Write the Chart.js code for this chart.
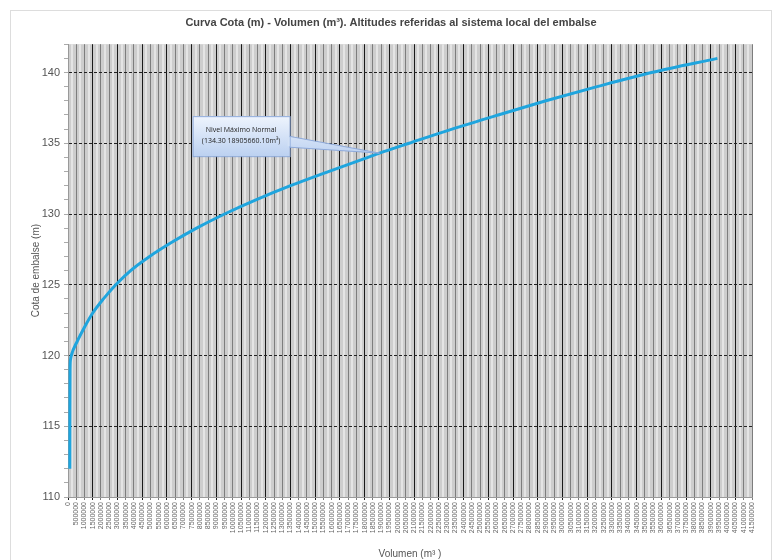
<!DOCTYPE html>
<html>
<head>
<meta charset="utf-8">
<script src="https://cdn.jsdelivr.net/npm/chart.js@4"></script>
<style>
  html, body { margin: 0; padding: 0; background: #fff; }
  #wrap { position: relative; width: 774px; height: 560px; }
  #frame { position: absolute; left: 10px; top: 10px; right: 2px; bottom: -2px; border: 1px solid #ddd; }
</style>
</head>
<body>
<div id="wrap">
  <div id="frame"></div>
  <canvas id="curva" width="774" height="560"></canvas>
</div>
<script>
// datos de la curva cota - volumen
const volumen = [110000, 115000, 125000, 150000, 200000, 560000, 1000000, 1500000, 2150000, 2900000,
  3800000, 4950000, 6300000, 7800000, 9500000, 11400000, 13500000, 15800000, 18200000,
  18905660.1, 20700000, 23300000, 26100000, 29000000, 32100000, 35400000, 39400000];
const cota = [112, 116, 119, 119.7, 120, 121, 122, 123, 124, 125,
  126, 127, 128, 129, 130, 131, 132, 133, 134,
  134.3, 135, 136, 137, 138, 139, 140, 141];

const xMin = 0, xMax = 41500000, xStep = 500000;
const yMin = 110, yMax = 142;

const nivelCota = 134.30;
const nivelVol = 18905660.10;
const nivelTexto = ['Nivel Máximo Normal', '(134.30 18905660.10m³)'];

const puntos = volumen.map((v, i) => ({ x: v, y: cota[i] }));

// fondo del area de trazado con rayas claras
const fondoPlugin = {
    id: 'fondo',
    beforeDraw(chart) {
        const { ctx, chartArea: a, scales } = chart;
        ctx.save();
        ctx.fillStyle = '#cdcdcd';
        ctx.fillRect(a.left, a.top, a.right - a.left, a.bottom - a.top);
        ctx.strokeStyle = '#e4e4e4';
        ctx.lineWidth = 2;
        for (let v = xMin + xStep / 2; v < xMax; v += xStep) {
            const px = Math.round(scales.x.getPixelForValue(v));
            ctx.beginPath();
            ctx.moveTo(px, a.top);
            ctx.lineTo(px, a.bottom);
            ctx.stroke();
        }
        ctx.restore();
    }
};

// llamada "Nivel Maximo Normal"
const llamadaPlugin = {
    id: 'llamada',
    afterDatasetsDraw(chart) {
        const { ctx, scales } = chart;
        const px = scales.x.getPixelForValue(nivelVol);
        const py = scales.y.getPixelForValue(nivelCota);
        const bx = px - 187, by = py - 37, bw = 97, bh = 40;
        ctx.save();
        const grad = ctx.createLinearGradient(0, by, 0, by + bh);
        grad.addColorStop(0, '#eef4fd');
        grad.addColorStop(1, '#bcd1f1');
        ctx.fillStyle = grad;
        ctx.strokeStyle = '#8eaadb';
        ctx.lineWidth = 1;
        // punta
        ctx.beginPath();
        ctx.moveTo(bx + bw - 1, by + 20);
        ctx.lineTo(px, py);
        ctx.lineTo(bx + bw - 1, by + 31);
        ctx.closePath();
        ctx.fill();
        ctx.stroke();
        ctx.fillRect(bx, by, bw, bh);
        ctx.strokeRect(bx + 0.5, by + 0.5, bw, bh);
        ctx.fillStyle = '#d3e1f6';
        ctx.fillRect(bx + bw - 2, by + 21, 2, 9);
        ctx.fillStyle = '#222';
        ctx.font = '7px "Open Sans", sans-serif';
        ctx.textAlign = 'center';
        ctx.textBaseline = 'middle';
        ctx.fillText(nivelTexto[0], bx + bw / 2, by + 14);
        ctx.fillText(nivelTexto[1], bx + bw / 2, by + 25);
        ctx.restore();
    }
};

new Chart(document.getElementById('curva'), {
    type: 'scatter',
    data: {
        datasets: [{
            data: puntos,
            showLine: true,
            borderColor: '#1fa5de',
            borderWidth: 3,
            pointRadius: 0,
            cubicInterpolationMode: 'monotone'
        }]
    },
    options: {
        responsive: false,
        animation: false,
        layout: { padding: { left: 30, right: 22, top: 10, bottom: 0 } },
        plugins: {
            legend: { display: false },
            tooltip: { enabled: false },
            title: {
                display: true,
                text: 'Curva Cota (m) - Volumen (m³). Altitudes referidas al sistema local del embalse',
                color: '#444',
                font: { family: 'Liberation Sans, Arial, sans-serif', size: 11, weight: 'bold' },
                padding: { top: 6, bottom: 15 }
            }
        },
        scales: {
            x: {
                type: 'linear',
                min: xMin,
                max: xMax,
                afterFit: s => { s.height = 63; },
                ticks: {
                    stepSize: xStep,
                    maxTicksLimit: 200,
                    autoSkip: false,
                    maxRotation: 90,
                    minRotation: 90,
                    color: '#666',
                    font: { family: 'Liberation Sans, Arial, sans-serif', size: 7 },
                    padding: 2,
                    callback: v => String(Math.round(v))
                },
                grid: {
                    color: c => (c.index % 3 === 0 ? '#1a1a1a' : '#7d7d7d'),
                    lineWidth: 1,
                    tickLength: 3
                },
                border: { color: '#999' },
                title: {
                    display: true,
                    text: 'Volumen (m³ )',
                    color: '#555',
                    font: { family: 'Liberation Sans, Arial, sans-serif', size: 10 },
                    padding: { top: 0, bottom: 0 }
                }
            },
            y: {
                min: yMin,
                max: yMax,
                afterFit: s => { s.width = 38; },
                ticks: {
                    stepSize: 1,
                    autoSkip: false,
                    color: '#555',
                    font: { family: 'Liberation Sans, Arial, sans-serif', size: 11 },
                    padding: 4,
                    callback: v => (v % 5 === 0 ? String(v) : '')
                },
                grid: {
                    color: c => (c.tick && c.tick.value % 5 === 0 ? '#222' : 'rgba(0,0,0,0)'),
                    tickColor: '#aaa',
                    tickLength: 4,
                    tickBorderDash: [],
                    lineWidth: 1
                },
                border: { color: '#999', dash: [3, 2] },
                title: {
                    display: true,
                    text: 'Cota de embalse (m)',
                    color: '#555',
                    font: { family: 'Liberation Sans, Arial, sans-serif', size: 10 },
                    padding: { top: 0, bottom: 0 }
                }
            }
        }
    },
    plugins: [fondoPlugin, llamadaPlugin]
});
</script>
</body>
</html>
